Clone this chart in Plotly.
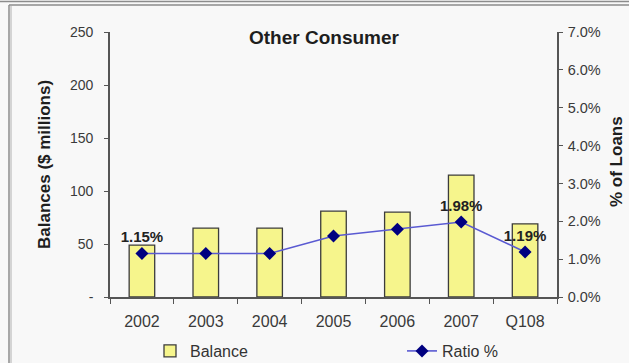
import plotly.graph_objects as go

# Other Consumer balances and loan ratio
categories = ["2002", "2003", "2004", "2005", "2006", "2007", "Q108"]
balances = [49, 65, 65, 81, 80, 115, 69]          # $ millions
ratio_pct = [1.15, 1.15, 1.15, 1.61, 1.79, 1.98, 1.19]  # % of loans
ratio_labels = ["1.15%", "", "", "", "", "1.98%", "1.19%"]

left_ticks = [0, 50, 100, 150, 200, 250]
left_ticktext = ["-", "50", "100", "150", "200", "250"]

W, H = 629, 363
L, R, T, B = 110, 72, 32, 66
PW, PH = W - L - R, H - T - B

FONT = "Liberation Sans, Arial, sans-serif"
BG = "#f8f8f8"
AXIS = "#555555"


def px(x):
    return (x - L) / PW


def py(y):
    return (H - B - y) / PH


fig = go.Figure()

fig.add_trace(go.Bar(
    x=categories, y=balances, name="Balance",
    width=0.4,
    marker=dict(color="#f6f58c", line=dict(color="#3c3c3c", width=1.3)),
    yaxis="y", legend="legend",
))

fig.add_trace(go.Scatter(
    x=categories, y=[v / 100 for v in ratio_pct], name="Ratio %",
    mode="lines+markers+text",
    text=ratio_labels, textposition="top center",
    textfont=dict(family=FONT, size=15, color="#222222", weight="bold"),
    line=dict(color="#5a5ad2", width=1.6),
    marker=dict(symbol="diamond", size=10, color="#000080"),
    yaxis="y2", legend="legend2",
    cliponaxis=False,
))

# frame lines around the chart
frame = dict(type="line", xref="paper", yref="paper", line=dict(color="#8c8c8c", width=1.5))
shapes = [
    dict(frame, x0=px(0), x1=px(W), y0=py(1.5), y1=py(1.5)),
    dict(frame, x0=px(9), x1=px(W), y0=py(5), y1=py(5)),
    dict(frame, x0=px(9), x1=px(9), y0=py(5), y1=py(H)),
    dict(type="line", xref="paper", yref="paper", x0=px(11), x1=px(11), y0=py(6), y1=py(H),
         line=dict(color="#c8c8c8", width=1.5)),
]

annotations = [
    dict(text="<b>Other Consumer</b>", xref="paper", yref="paper",
         x=px(324), y=py(37), xanchor="center", yanchor="middle", showarrow=False,
         font=dict(family=FONT, size=19, color="#1e1e1e")),
    dict(text="<b>Balances ($ millions)</b>", xref="paper", yref="paper",
         x=px(44), y=py(165), xanchor="center", yanchor="middle", showarrow=False,
         textangle=-90, font=dict(family=FONT, size=17, color="#1e1e1e")),
    dict(text="<b>% of Loans</b>", xref="paper", yref="paper",
         x=px(616), y=py(162), xanchor="center", yanchor="middle", showarrow=False,
         textangle=-90, font=dict(family=FONT, size=17, color="#1e1e1e")),
]

legend_style = dict(orientation="h", yanchor="middle", xanchor="left",
                    xref="container", yref="container",
                    font=dict(family=FONT, size=16, color="#333333"),
                    bgcolor="rgba(0,0,0,0)", borderwidth=0)

fig.update_layout(
    width=W, height=H,
    margin=dict(l=L, r=R, t=T, b=B, autoexpand=False),
    paper_bgcolor=BG, plot_bgcolor=BG,
    font=dict(family=FONT, color="#3a3a3a"),
    showlegend=True,
    legend=dict(legend_style, x=150 / W, y=1 - 351 / H),
    legend2=dict(legend_style, x=402 / W, y=1 - 351 / H),
    xaxis=dict(
        type="category", range=[-0.5, 6.5],
        showline=True, linecolor=AXIS, linewidth=1.6,
        ticks="outside", tickson="boundaries", ticklen=5, tickcolor=AXIS, tickwidth=1.4,
        tickfont=dict(family=FONT, size=16, color="#3a3a3a"),
        ticklabelstandoff=9,
        showgrid=False, zeroline=False,
    ),
    yaxis=dict(
        range=[0, 250], tickvals=left_ticks, ticktext=left_ticktext,
        showline=True, linecolor=AXIS, linewidth=1.6,
        ticks="outside", ticklen=4, tickcolor=AXIS, tickwidth=1.4,
        tickfont=dict(family=FONT, size=14, color="#3a3a3a"),
        ticklabelstandoff=8,
        showgrid=False, zeroline=False,
    ),
    yaxis2=dict(
        range=[0, 0.07], dtick=0.01, tickformat=".1%",
        overlaying="y", side="right", anchor="x",
        showline=True, linecolor=AXIS, linewidth=1.6,
        ticks="outside", ticklen=4, tickcolor=AXIS, tickwidth=1.4,
        tickfont=dict(family=FONT, size=14.5, color="#3a3a3a"),
        ticklabelstandoff=2,
        showgrid=False, zeroline=False,
    ),
    shapes=shapes,
    annotations=annotations,
    bargap=0.6,
)

fig.write_html("out.html")
